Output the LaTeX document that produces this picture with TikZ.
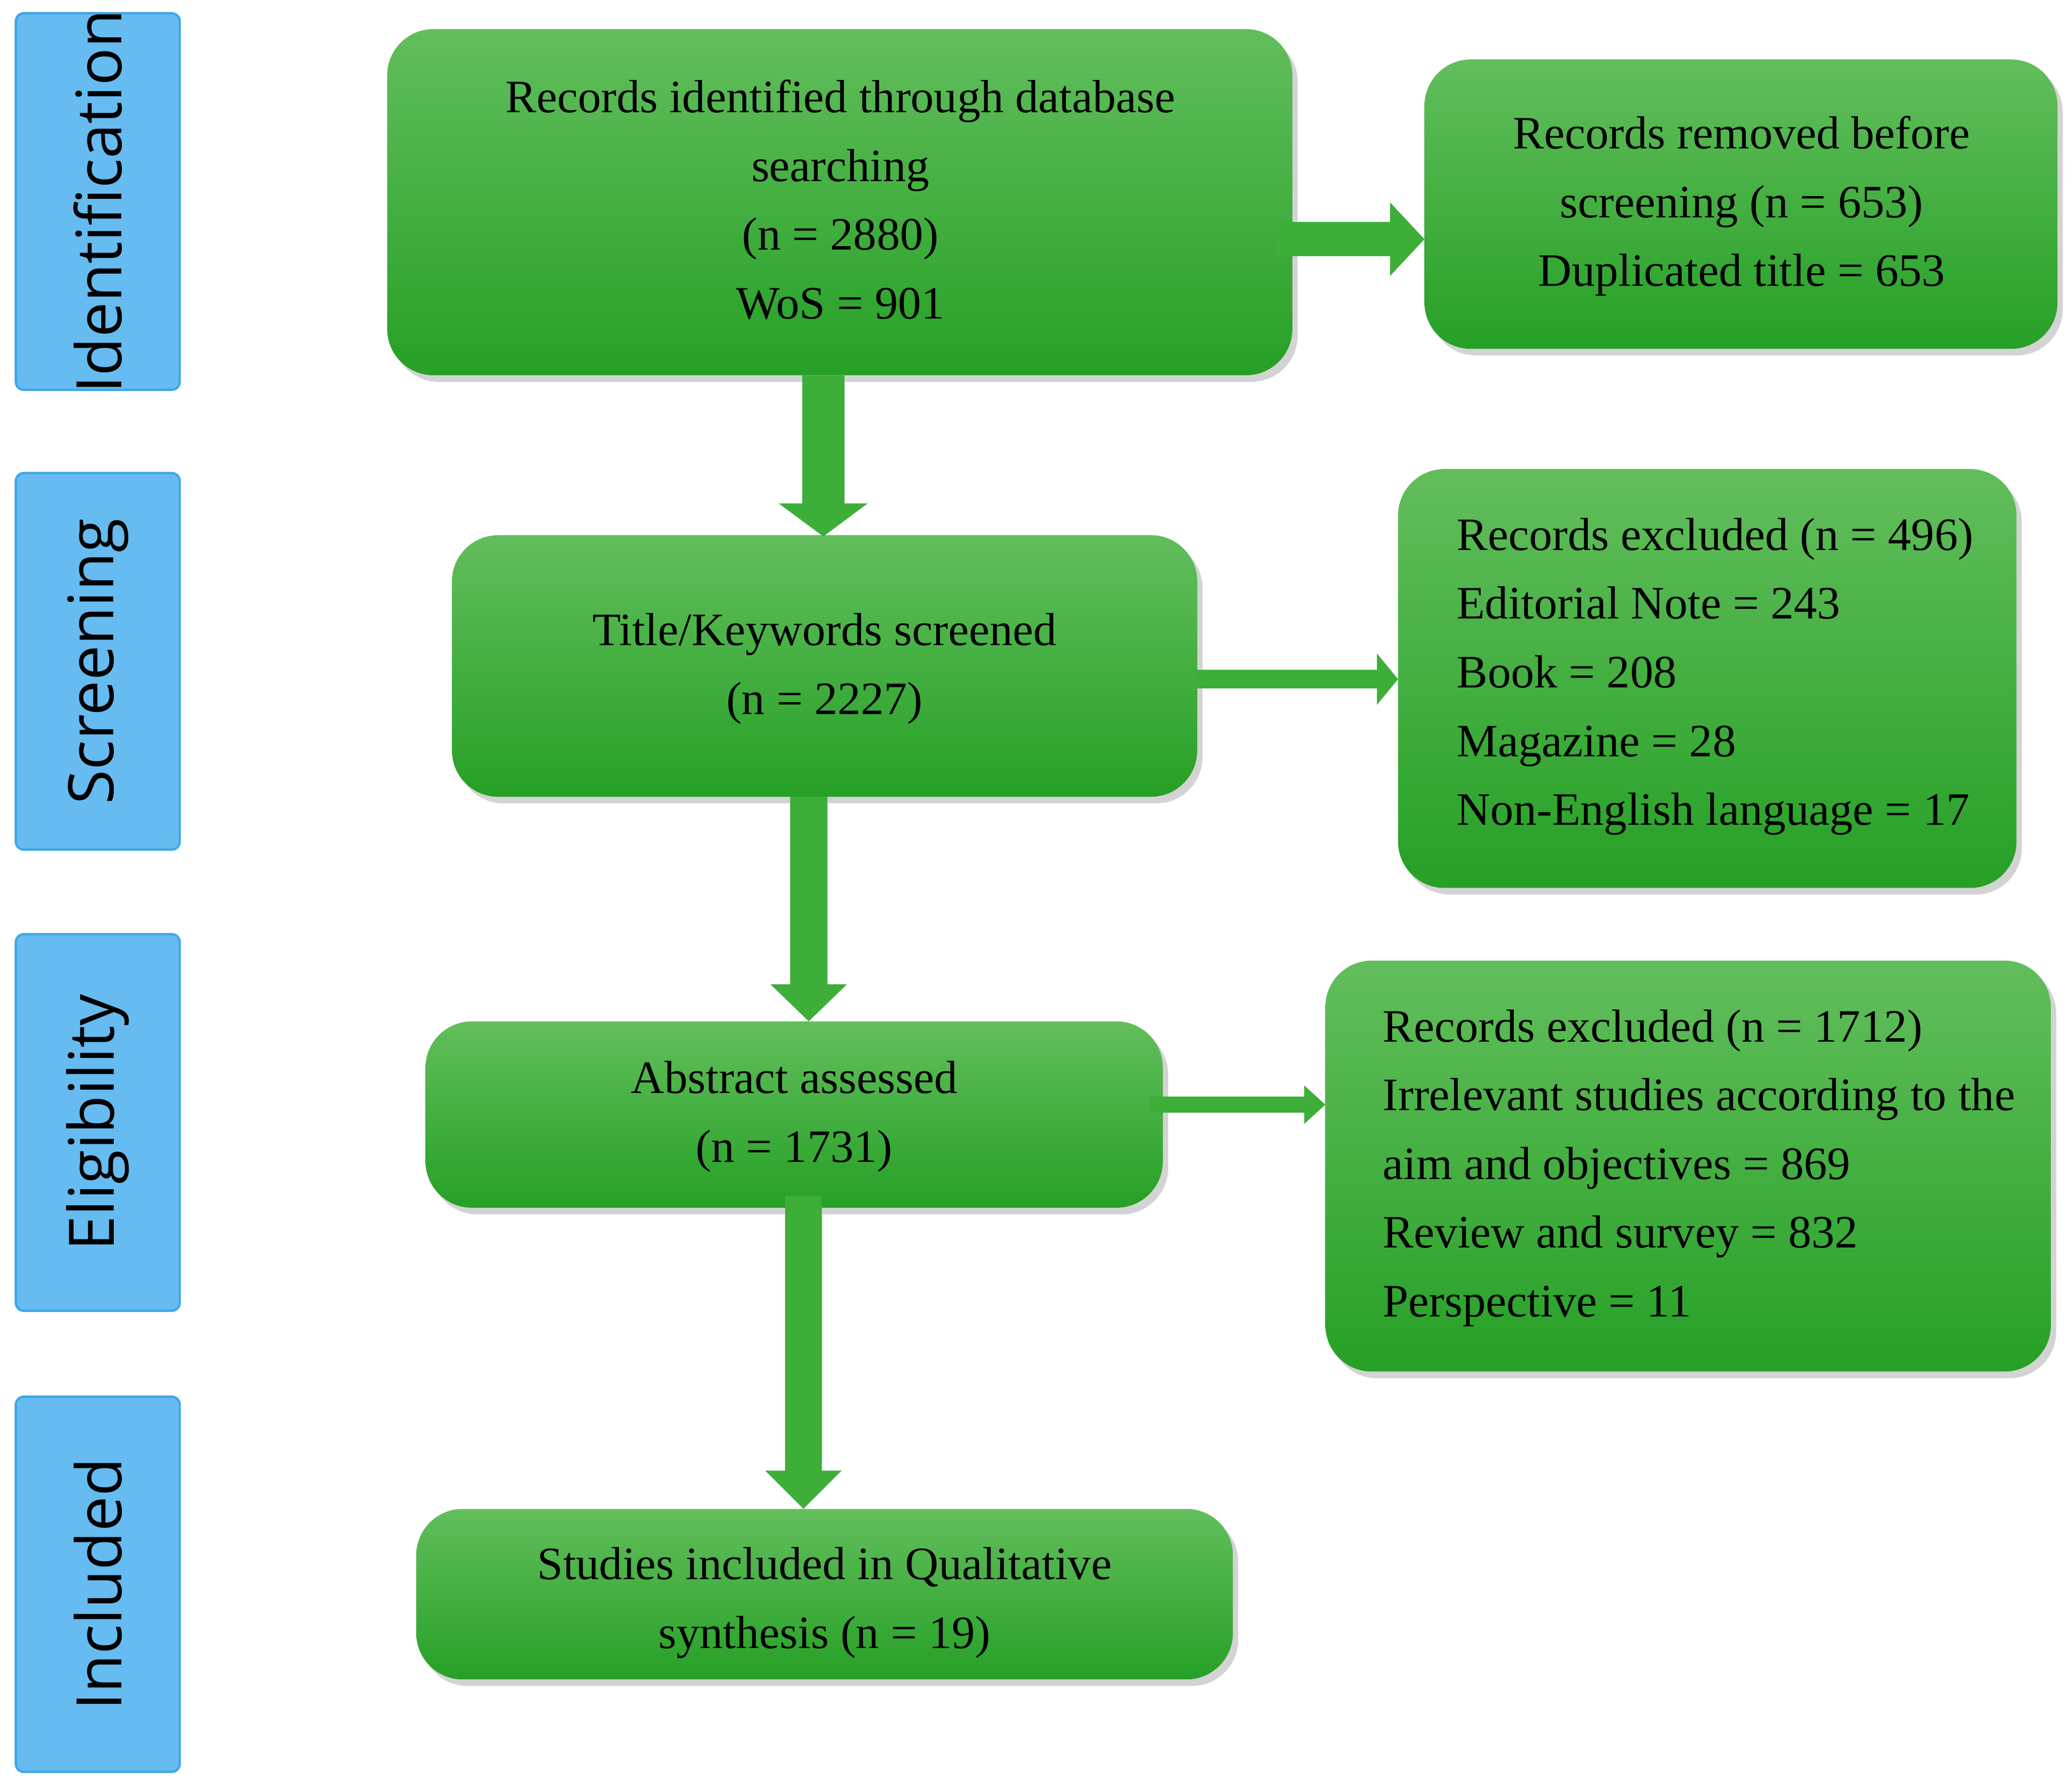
\documentclass[tikz,border=0pt]{standalone}
\usepackage{fontspec}
\setmainfont{Liberation Serif}
\newfontfamily\sidefont{Open Sans}
\usetikzlibrary{arrows.meta,shadows}
\definecolor{gtop}{HTML}{62BE5C}
\definecolor{gbot}{HTML}{26A026}
\definecolor{garr}{HTML}{3DAE38}
\definecolor{sideblue}{HTML}{66BBF0}
\definecolor{sideedge}{HTML}{3FA7E6}
\begin{document}
\begin{tikzpicture}[x=0.01cm,y=-0.01cm,
  gbox/.style={rounded corners=0.35cm, top color=gtop, bottom color=gbot, draw=none,
    drop shadow={shadow xshift=0.04cm,shadow yshift=-0.05cm,opacity=0.35},
    font=\fontsize{10}{14.8}\selectfont},
  side/.style={fill=sideblue, draw=sideedge, line width=0.5pt, rounded corners=0.06cm},
  sidetxt/.style={rotate=90, font=\sidefont\fontsize{13.5}{16}\selectfont},
  arr/.style={draw=garr, -{Triangle[width=0.66cm,length=0.25cm]}}]
\useasboundingbox (0,0) rectangle (1568,1353);
% side labels
\foreach \ya/\yb/\t/\n in {10/295/Identification/s1,358/643/Screening/s2,707/992/Eligibility/s3,1057/1341/Included/s4}{
  \draw[side] (12,\ya) rectangle (136,\yb);
  \node[sidetxt] (\n) at (74,{(\ya+\yb)/2}) {\t};
}
% boxes
\path[gbox] (293,22) rectangle (978,284);
\coordinate (A) at (635.5,153);
\node[font=\fontsize{10}{14.8}\selectfont,align=center] (a) at (636,151) {Records identified through database\\searching\\(n = 2880)\\WoS = 901};
\path[gbox] (1078,45) rectangle (1557,264);
\node[font=\fontsize{10}{14.8}\selectfont,align=center] (b) at (1318,156) {Records removed before\\screening (n = 653)\\Duplicated title = 653};
\path[gbox] (342,405) rectangle (906,603);
\node[font=\fontsize{10}{14.8}\selectfont,align=center] (c) at (624,506) {Title/Keywords screened\\(n = 2227)};
\path[gbox] (1058,355) rectangle (1526,672);
\node[font=\fontsize{10}{14.8}\selectfont,align=left,anchor=west] (d) at (1090,512) {Records excluded (n = 496)\\Editorial Note = 243\\Book = 208\\Magazine = 28\\Non-English language = 17};
\path[gbox] (322,773) rectangle (880,914);
\node[font=\fontsize{10}{14.8}\selectfont,align=center] (e) at (601,845) {Abstract assessed\\(n = 1731)};
\path[gbox] (1003,727) rectangle (1552,1038);
\node[font=\fontsize{10}{14.8}\selectfont,align=left,anchor=west] (f) at (1034,884) {Records excluded (n = 1712)\\Irrelevant studies according to the\\aim and objectives = 869\\Review and survey = 832\\Perspective = 11};
\path[gbox] (315,1142) rectangle (933,1271);
\node[font=\fontsize{10}{14.8}\selectfont,align=center] (g) at (624,1213) {Studies included in Qualitative\\synthesis (n = 19)};
% connector anchors
\coordinate (a1) at (623,284); \coordinate (c1) at (623,406);
\coordinate (c2) at (612,603); \coordinate (e1) at (612,773);
\coordinate (e2) at (608,905); \coordinate (g1) at (608,1142);
\coordinate (a2) at (965,181); \coordinate (b1) at (1078,181);
\coordinate (c3) at (906,514); \coordinate (d1) at (1058,514);
\coordinate (e3) at (870,836); \coordinate (f1) at (1003,836);
\draw[arr,line width=0.32cm] (a1) -- (c1);
\draw[arr,line width=0.28cm,-{Triangle[width=0.56cm,length=0.28cm]}] (c2) -- (e1);
\draw[arr,line width=0.28cm,-{Triangle[width=0.56cm,length=0.29cm]}] (e2) -- (g1);
\draw[arr,line width=0.26cm,-{Triangle[width=0.54cm,length=0.26cm]}] (a2) -- (b1);
\draw[arr,line width=0.14cm,-{Triangle[width=0.38cm,length=0.16cm]}] (c3) -- (d1);
\draw[arr,line width=0.12cm,-{Triangle[width=0.28cm,length=0.16cm]}] (e3) -- (f1);
\end{tikzpicture}
\end{document}
